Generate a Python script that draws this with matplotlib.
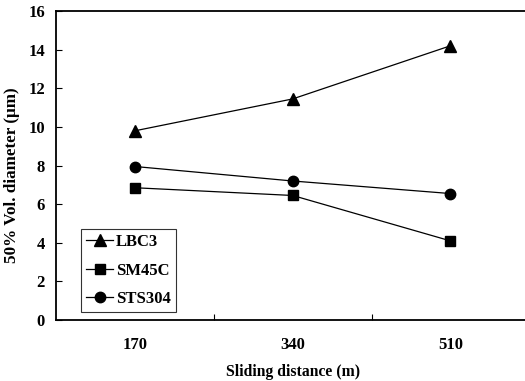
import matplotlib
matplotlib.use("Agg")
import matplotlib.pyplot as plt
import numpy as np

# sliding distance categories (m)
distances = ["170", "340", "510"]
# 50% vol. diameter (um)
lbc3 = [9.8, 11.45, 14.2]
sm45c = [6.85, 6.45, 4.1]
sts304 = [7.95, 7.2, 6.55]

plt.rcParams["font.family"] = ["Liberation Serif", "DejaVu Serif"]
plt.rcParams["font.weight"] = "bold"

fig = plt.figure(figsize=(5.25, 3.81), dpi=100)
ax = fig.add_axes([0.107, 0.160, 0.901, 0.811])

x = np.arange(len(distances))
ax.plot(x, lbc3, color="black", lw=0.9, marker="^", ms=8, label="LBC3")
ax.plot(x, sm45c, color="black", lw=0.9, marker="s", ms=7, label="SM45C")
ax.plot(x, sts304, color="black", lw=0.9, marker="o", ms=7.5, label="STS304")

ax.set_xlim(-0.5, 2.5)
ax.set_ylim(0, 16)
ax.set_yticks(range(0, 17, 2))
ax.set_xticks(x)
ax.set_xticklabels(distances)
ax.set_xticks([0.5, 1.5], minor=True)
ax.tick_params(axis="x", which="major", length=0, pad=12, labelsize=12)
ax.tick_params(axis="x", which="minor", direction="in", length=4, width=0.8)
ax.tick_params(axis="y", direction="in", length=4, width=0.8, labelsize=12, pad=8)

ax.spines["right"].set_visible(False)
for s in ["left", "top", "bottom"]:
    ax.spines[s].set_linewidth(1.3)

ax.set_xlabel("Sliding distance (m)", fontsize=11.3, fontweight="bold", labelpad=8)
ax.set_ylabel("50% Vol. diameter (\u03bcm)", fontsize=12.3, fontweight="bold")
ax.yaxis.set_label_coords(-0.077, 0.47)

leg = ax.legend(loc="lower left", bbox_to_anchor=(0.053, 0.026), frameon=True,
                fancybox=False, edgecolor="black", fontsize=12, handlelength=1.6,
                handletextpad=0.2, borderpad=0.3, labelspacing=0.75, borderaxespad=0)
leg.get_frame().set_linewidth(0.8)

fig.savefig("out.png", dpi=100)
